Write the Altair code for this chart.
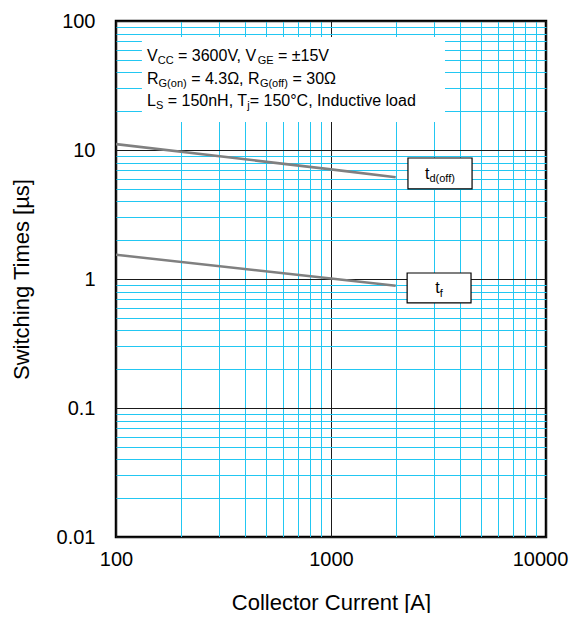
import altair as alt
import pandas as pd

# ---------------- data ----------------
current = [100, 1000, 2000]            # Collector current [A]
td_off = [11.1, 7.08, 6.15]            # t_d(off) [us]
t_f = [1.54, 1.01, 0.887]              # t_f [us]

x_major = [100, 1000, 10000]
x_minor = [200, 300, 400, 500, 600, 700, 800, 900,
           2000, 3000, 4000, 5000, 6000, 7000, 8000, 9000]
y_major = [0.01, 0.1, 1, 10, 100]
y_minor = [0.02, 0.03, 0.04, 0.05, 0.06, 0.07, 0.08, 0.09,
           0.2, 0.3, 0.4, 0.5, 0.6, 0.7, 0.8, 0.9,
           2, 3, 4, 5, 6, 7, 8, 9,
           20, 30, 40, 50, 60, 70, 80, 90]

# conditions box (data coordinates)
cond_box_x = [132, 3390]
cond_box_y = [75.2, 16.5]
cond_anchor_x = 139.4
cond_line_y = [49.3, 32.6, 22.1]
cond_lines = [
    [("V", "n"), ("CC", "s"), (" = 3600V, V", "n"), ("GE", "s"), (" = ±15V", "n")],
    [("R", "n"), ("G(on)", "s"), (" = 4.3Ω, R", "n"), ("G(off)", "s"), (" = 30Ω", "n")],
    [("L", "n"), ("S", "s"), (" = 150nH, T", "n"), ("j", "s"), ("= 150°C, Inductive load", "n")],
]

# curve label boxes (data coordinates)
label_names = ["td", "tf"]
label_main = ["t", "t"]
label_sub = ["d(off)", "f"]
label_x1 = [2280, 2260]
label_x2 = [4530, 4480]
label_y1 = [8.67, 1.113]
label_y2 = [4.99, 0.652]

FONT = "Liberation Sans"
MAIN, SUB = 16, 11

# Arial / Liberation Sans advance widths (1/1000 em)
W = {" ": 278, "=": 584, "V": 667, ",": 278, "±": 584, "C": 722, "G": 778,
     "E": 667, "R": 722, "(": 333, ")": 333, "o": 556, "n": 556, "f": 278,
     ".": 278, "Ω": 768, "L": 556, "S": 667, "H": 722, "T": 611, "j": 222,
     "°": 400, "I": 278, "d": 556, "u": 556, "c": 500, "t": 278, "i": 222,
     "v": 500, "e": 556, "l": 222, "a": 556}


def tw(s, size):
    return sum(W.get(ch, 556) for ch in s) * size / 1000.0


xscale = alt.Scale(type="log", domain=[100, 10000], nice=False)
yscale = alt.Scale(type="log", domain=[0.01, 100], nice=False)

grid_cyan = "#22C7F2"
grid_major = "#1a1a1a"

xaxis = alt.Axis(
    values=x_major + x_minor,
    format="~g",
    labelExpr="indexof(%s, datum.value) >= 0 ? datum.label : ''" % str(x_major),
    grid=True,
    gridColor={"condition": {"test": "indexof(%s, datum.value) >= 0" % str(x_major),
                             "value": grid_major}, "value": grid_cyan},
    gridWidth=1,
    ticks=False, domain=False,
    labelFont=FONT, labelFontSize=20, labelFontWeight="normal", labelColor="black",
    labelPadding=12, labelOverlap=False, labelFlush=False,
    labelOffset={"condition": {"test": "datum.value == %d" % x_major[-1], "value": -6},
                 "value": 0},
    title="Collector Current [A]", titleFont=FONT, titleFontSize=22,
    titleFontWeight="normal", titleColor="black", titlePadding=23,
)
yaxis = alt.Axis(
    values=y_major + y_minor,
    format="~g",
    labelExpr="indexof(%s, datum.value) >= 0 ? datum.label : ''" % str(y_major),
    grid=True,
    gridColor={"condition": {"test": "indexof(%s, datum.value) >= 0" % str(y_major),
                             "value": grid_major}, "value": grid_cyan},
    gridWidth=1,
    ticks=False, domain=False,
    labelFont=FONT, labelFontSize=20, labelFontWeight="normal", labelColor="black",
    labelPadding=21, labelOverlap=False, labelFlush=False,
    title="Switching Times [µs]", titleFont=FONT, titleFontSize=22,
    titleFontWeight="normal", titleColor="black", titlePadding=23,
)


def X(field=None, datum=None):
    if datum is not None:
        return alt.XDatum(datum, type="quantitative", scale=xscale, axis=xaxis)
    return alt.X(field, type="quantitative", scale=xscale, axis=xaxis)


def Y(field=None, datum=None):
    if datum is not None:
        return alt.YDatum(datum, type="quantitative", scale=yscale, axis=yaxis)
    return alt.Y(field, type="quantitative", scale=yscale, axis=yaxis)


curves = pd.DataFrame({
    "current": current * 2,
    "time": td_off + t_f,
    "curve": ["td_off"] * len(current) + ["t_f"] * len(current),
})

lines = alt.Chart(curves).mark_line(color="#808080", strokeWidth=2.6, clip=True).encode(
    x=X("current"), y=Y("time"), detail="curve:N"
)

cond_df = pd.DataFrame({"x": [cond_box_x[0]], "x2": [cond_box_x[1]],
                        "y": [cond_box_y[0]], "y2": [cond_box_y[1]]})
cond_rect = alt.Chart(cond_df).mark_rect(fill="white", stroke=None).encode(
    x=X("x"), x2="x2:Q", y=Y("y"), y2="y2:Q"
)

lab_df = pd.DataFrame({"name": label_names, "x": label_x1, "x2": label_x2,
                       "y": label_y1, "y2": label_y2})
lab_rect = alt.Chart(lab_df).mark_rect(fill="white", stroke="black", strokeWidth=1.2).encode(
    x=X("x"), x2="x2:Q", y=Y("y"), y2="y2:Q"
)

layers = [cond_rect, lines, lab_rect]

# condition text, with subscripts
for line, ly in zip(cond_lines, cond_line_y):
    cursor = 0.0
    for seg, kind in line:
        size = MAIN if kind == "n" else SUB
        stripped = seg.lstrip(" ")
        cursor += (len(seg) - len(stripped)) * W[" "] * size / 1000.0
        layers.append(
            alt.Chart().mark_text(
                align="left", baseline="alphabetic", font=FONT, fontSize=size,
                color="black", dx=cursor, dy=0 if kind == "n" else 3,
            ).encode(x=X(datum=cond_anchor_x), y=Y(datum=ly), text=alt.value(stripped))
        )
        cursor += tw(stripped, size)

# curve labels t_d(off), t_f
for m, s, xa, xb, ya, yb in zip(label_main, label_sub, label_x1, label_x2, label_y1, label_y2):
    cx = (xa * xb) ** 0.5
    cy = (ya * yb) ** 0.5
    total = tw(m, MAIN) + tw(s, SUB)
    layers.append(
        alt.Chart().mark_text(align="left", baseline="alphabetic", font=FONT,
                              fontSize=MAIN, color="black", dx=-total / 2, dy=5.5)
        .encode(x=X(datum=cx), y=Y(datum=cy), text=alt.value(m))
    )
    layers.append(
        alt.Chart().mark_text(align="left", baseline="alphabetic", font=FONT,
                              fontSize=SUB, color="black",
                              dx=-total / 2 + tw(m, MAIN), dy=9)
        .encode(x=X(datum=cx), y=Y(datum=cy), text=alt.value(s))
    )

chart = alt.layer(*layers).properties(
    width=430, height=516,
    autosize=alt.AutoSizeParams(type="none"),
    padding={"left": 108, "top": 13, "right": 23, "bottom": 76},
    background="white",
).configure_view(stroke="black", strokeWidth=2.5)

chart.save("out.html", embed_options={"renderer": "svg", "actions": False})
